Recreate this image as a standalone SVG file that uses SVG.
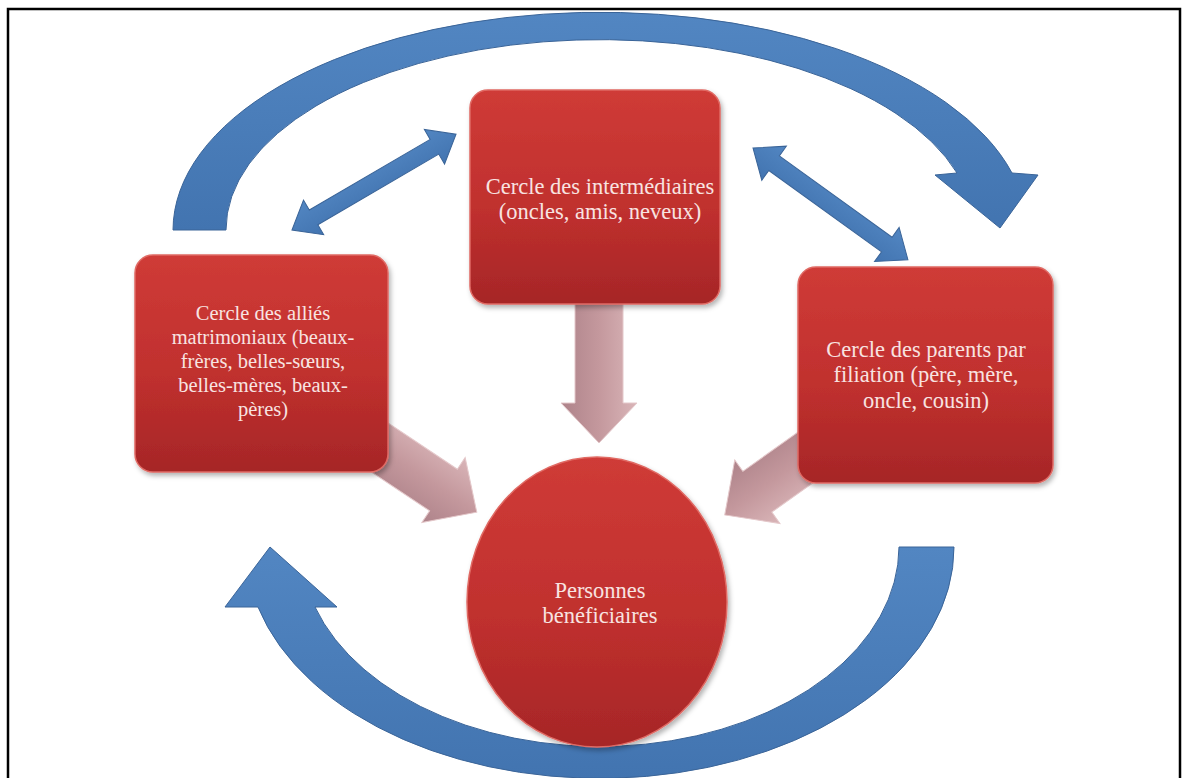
<svg xmlns="http://www.w3.org/2000/svg" width="1187" height="778" viewBox="0 0 1187 778">
  <defs>
    <linearGradient id="redBox" x1="0" y1="0" x2="0" y2="1">
      <stop offset="0" stop-color="#cf3b37"/>
      <stop offset="0.55" stop-color="#c0302e"/>
      <stop offset="1" stop-color="#a62627"/>
    </linearGradient>
    <linearGradient id="pink" x1="0" y1="0" x2="0" y2="1">
      <stop offset="0" stop-color="#d9b5b8"/>
      <stop offset="0.5" stop-color="#c4989d"/>
      <stop offset="1" stop-color="#ae838a"/>
    </linearGradient>
    <linearGradient id="blue" x1="0" y1="0" x2="0" y2="1">
      <stop offset="0" stop-color="#5286c2"/>
      <stop offset="1" stop-color="#4274b0"/>
    </linearGradient>
    <filter id="shadow" x="-10%" y="-10%" width="125%" height="125%">
      <feDropShadow dx="2" dy="3" stdDeviation="2.5" flood-color="#000" flood-opacity="0.3"/>
    </filter>
  </defs>
  <style>
    .box { fill: url(#redBox); stroke: #e06a64; stroke-width: 1.5; filter: url(#shadow); }
    .lbl { font-size: 22.5px; fill: #f8e3e1; text-anchor: middle; }
    .sm { font-size: 20.5px; }
    .blue { fill: url(#blue); stroke: #3a6498; stroke-width: 1; }
    .pink { fill: url(#pink); stroke: #e4c8ca; stroke-width: 1; }
  </style>

  <rect x="0" y="0" width="1187" height="778" fill="#ffffff"/>
  <path d="M8,790 V9 H1180 V790" fill="none" stroke="#000" stroke-width="2.5"/>

  <g id="connectors">
    <path class="blue" d="M173,230 A427,218 0 0 1 1012,173 L1038,175 L1000,228 L935,175 L957,173 A374,190 0 0 0 226,230 Z"/>
    <path class="blue" d="M954,547 A354,231 0 0 1 258,607 L225,607 L270,547 L337,607 L315,607 A299,200 0 0 0 899,547 Z"/>
    <path class="blue" transform="translate(292,230) rotate(-30.3)" d="M0,0 L25,-20 L25,-8.5 L165,-8.5 L165,-20 L190,0 L165,20 L165,8.5 L25,8.5 L25,20 Z"/>
    <path class="blue" transform="translate(753,148) rotate(35.8)" d="M0,0 L26,-21 L26,-9 L165,-9 L165,-21 L191,0 L165,21 L165,9 L26,9 L26,21 Z"/>
    <path class="pink" transform="translate(599,290) rotate(90)" d="M0,-24 L113,-24 L113,-38 L153,0 L113,38 L113,24 L0,24 Z"/>
    <path class="pink" transform="translate(352,429) rotate(33.7)" d="M0,-25 L110,-25 L110,-39 L150,0 L110,39 L110,25 L0,25 Z"/>
    <path class="pink" transform="translate(847,428) rotate(144.6)" d="M0,-25 L110,-25 L110,-39 L150,0 L110,39 L110,25 L0,25 Z"/>
  </g>

  <g id="node-intermediaires">
    <rect class="box" x="470" y="90" width="250" height="214" rx="18"/>
    <text class="lbl" font-family="'Liberation Serif', 'DejaVu Serif', serif" x="600" y="194">Cercle des intermédiaires</text>
    <text class="lbl" font-family="'Liberation Serif', 'DejaVu Serif', serif" x="600" y="219">(oncles, amis, neveux)</text>
  </g>

  <g id="node-allies">
    <rect class="box" x="135" y="255" width="253" height="217" rx="18"/>
    <text class="lbl sm" font-family="'Liberation Serif', 'DejaVu Serif', serif" x="263" y="320">Cercle des alliés</text>
    <text class="lbl sm" font-family="'Liberation Serif', 'DejaVu Serif', serif" x="263" y="344">matrimoniaux (beaux-</text>
    <text class="lbl sm" font-family="'Liberation Serif', 'DejaVu Serif', serif" x="263" y="368">frères, belles-sœurs,</text>
    <text class="lbl sm" font-family="'Liberation Serif', 'DejaVu Serif', serif" x="263" y="392">belles-mères, beaux-</text>
    <text class="lbl sm" font-family="'Liberation Serif', 'DejaVu Serif', serif" x="263" y="416">pères)</text>
  </g>

  <g id="node-parents">
    <rect class="box" x="798" y="267" width="255" height="216" rx="18"/>
    <text class="lbl" font-family="'Liberation Serif', 'DejaVu Serif', serif" x="926" y="357">Cercle des parents par</text>
    <text class="lbl" font-family="'Liberation Serif', 'DejaVu Serif', serif" x="926" y="382">filiation (père, mère,</text>
    <text class="lbl" font-family="'Liberation Serif', 'DejaVu Serif', serif" x="926" y="408">oncle, cousin)</text>
  </g>

  <g id="node-beneficiaires">
    <ellipse class="box" cx="597" cy="602" rx="130" ry="145"/>
    <text class="lbl" font-family="'Liberation Serif', 'DejaVu Serif', serif" x="600" y="598">Personnes</text>
    <text class="lbl" font-family="'Liberation Serif', 'DejaVu Serif', serif" x="600" y="623">bénéficiaires</text>
  </g>
</svg>
